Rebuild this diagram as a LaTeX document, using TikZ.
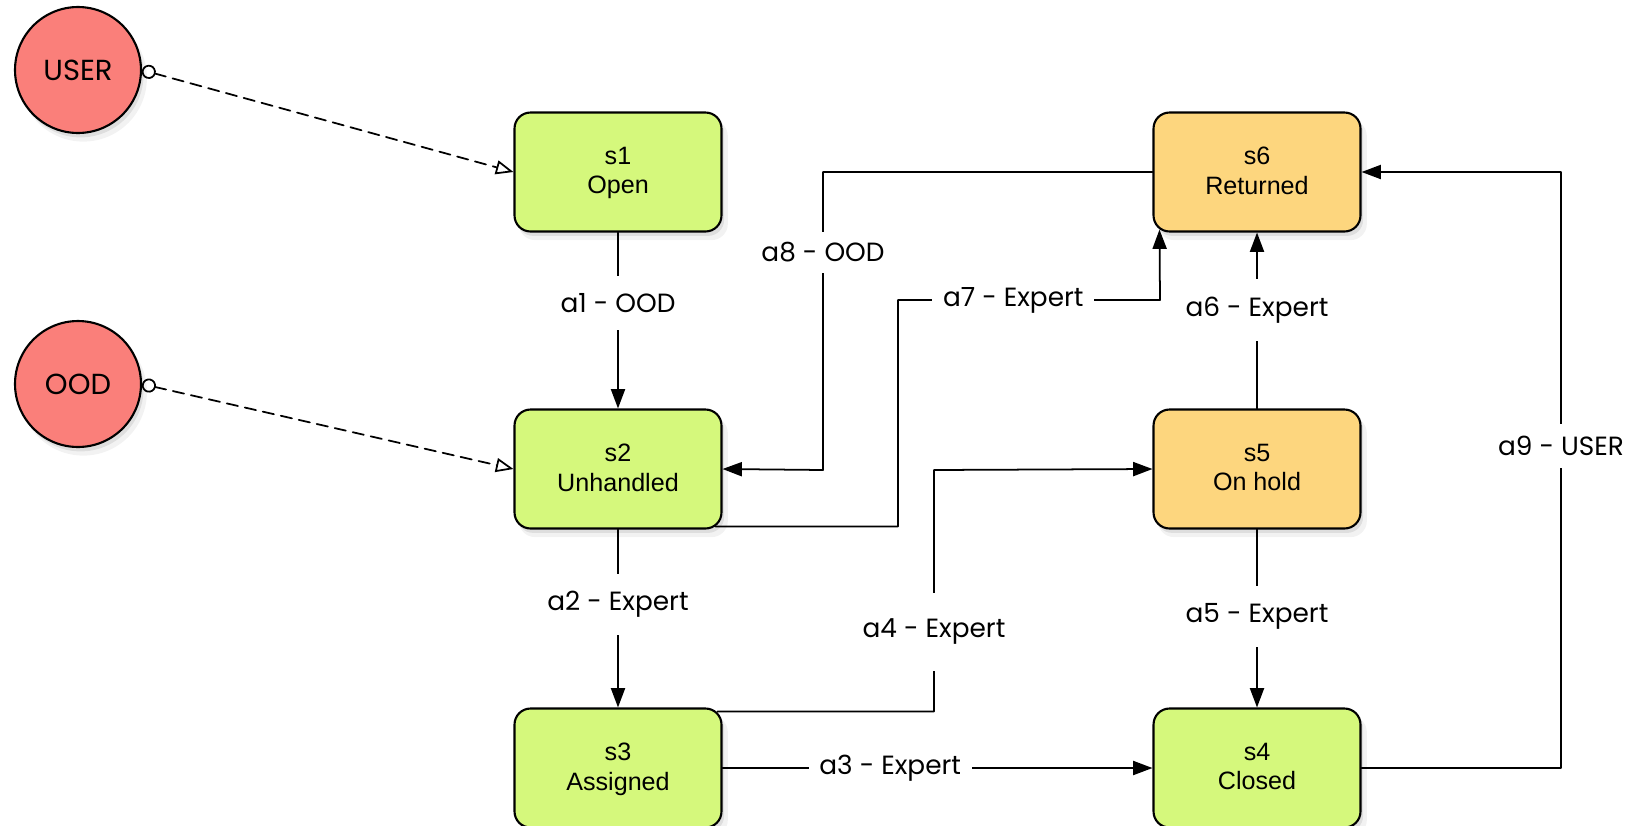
\documentclass[tikz,border=0pt]{standalone}
\usepackage{fontspec}
\setmainfont{Liberation Sans}
\newfontfamily\tagfont{Poppins}
\usetikzlibrary{arrows.meta, shadows, calc}
\definecolor{stategreen}{HTML}{D5F87C}
\definecolor{stateorange}{HTML}{FDD67E}
\definecolor{actorred}{HTML}{FA7F7A}

\begin{document}
\begin{tikzpicture}[line cap=round,line join=round,x=0.02cm,y=-0.02cm,
  softshadow/.style={drop shadow={opacity=0.10, shadow xshift=3pt, shadow yshift=-4.5pt, shadow scale=1.01},
                     drop shadow={opacity=0.18, shadow xshift=1.5pt, shadow yshift=-2.5pt}},
  state/.style={draw, line width=1.2pt, rounded corners=0.32cm, fill=stategreen, minimum width=4.14cm,
                minimum height=2.38cm, align=center, text depth=1.5pt, font=\fontsize{14.3}{16.6}\selectfont, softshadow},
  actor/.style={circle, draw, line width=1.2pt, fill=actorred, minimum size=2.52cm,
                font=\tagfont\fontsize{16.5}{19}\selectfont, softshadow},
  conn/.style={line width=1pt, -{Triangle[length=11pt, width=8pt]}},
  dashconn/.style={line width=1pt, dash pattern=on 6.5pt off 4pt,
                   {Circle[open, length=8pt, width=8pt]}-{Triangle[open, length=10pt, width=8pt]}},
  lbl/.style={fill=white, font=\tagfont\fontsize{15}{18}\selectfont, inner xsep=6pt, inner ysep=10pt}]
\useasboundingbox (0,0) rectangle (1632,825);

% Actors
\node [actor] (user) at (78,70) {USER};
\node [actor] (ood) at (78,384) {OOD};

% States
\node [state] (s1) at (618,172) {s1\\Open};
\node [state] (s2) at (618,469) {s2\\Unhandled};
\node [state] (s3) at (618,768) {s3\\Assigned};
\node [state] (s4) at (1257,768) {s4\\Closed};
\node [state, fill=stateorange] (s5) at (1257,469) {s5\\On hold};
\node [state, fill=stateorange] (s6) at (1257,172) {s6\\Returned};

% Bends
\coordinate (k4) at (934,470);
\coordinate (k7) at (898,300);
\coordinate (k8) at (823,172);
\coordinate (k9) at (1561,768);

% Actor links
\draw [dashconn] (user.east) -- (s1.west);
\draw [dashconn] (ood.east) -- (s2.west);

% Straight transitions
\draw [conn] (s1) -- node [lbl, pos=0.40] {a1 - OOD} (s2);
\draw [conn] (s2) -- node [lbl, pos=0.42] {a2 - Expert} (s3);
\draw [conn] (s3) -- node [lbl, pos=0.39] {a3 - Expert} (s4);
\draw [conn] (s5) -- node [lbl, pos=0.49] {a5 - Expert} (s4);
\draw [conn] (s5) -- node [lbl, pos=0.56] {a6 - Expert} (s6);

% Bent transitions
\draw [conn] ($(s3.north east)+(-5,4)$) -| node [lbl, pos=0.665, inner ysep=15pt] {a4 - Expert} (k4) -- (s5.west);
\draw [conn] ($(s2.south east)+(-7,-3)$) -| (k7) -- node [lbl, pos=0.44, inner ysep=6pt] {a7 - Expert} (1160,300)
  -- ($(s6.south west)+(7,-3)$);
\draw [conn] (s6.west) -- (k8) -- node [lbl, pos=0.27, inner ysep=6pt] {a8 - OOD} (823,470) -- (s2.east);
\draw [conn] (s4.east) -- (k9) -- node [lbl, pos=0.54, inner ysep=7pt] {a9 - USER} (1561,172) -- (s6.east);
\end{tikzpicture}
\end{document}
